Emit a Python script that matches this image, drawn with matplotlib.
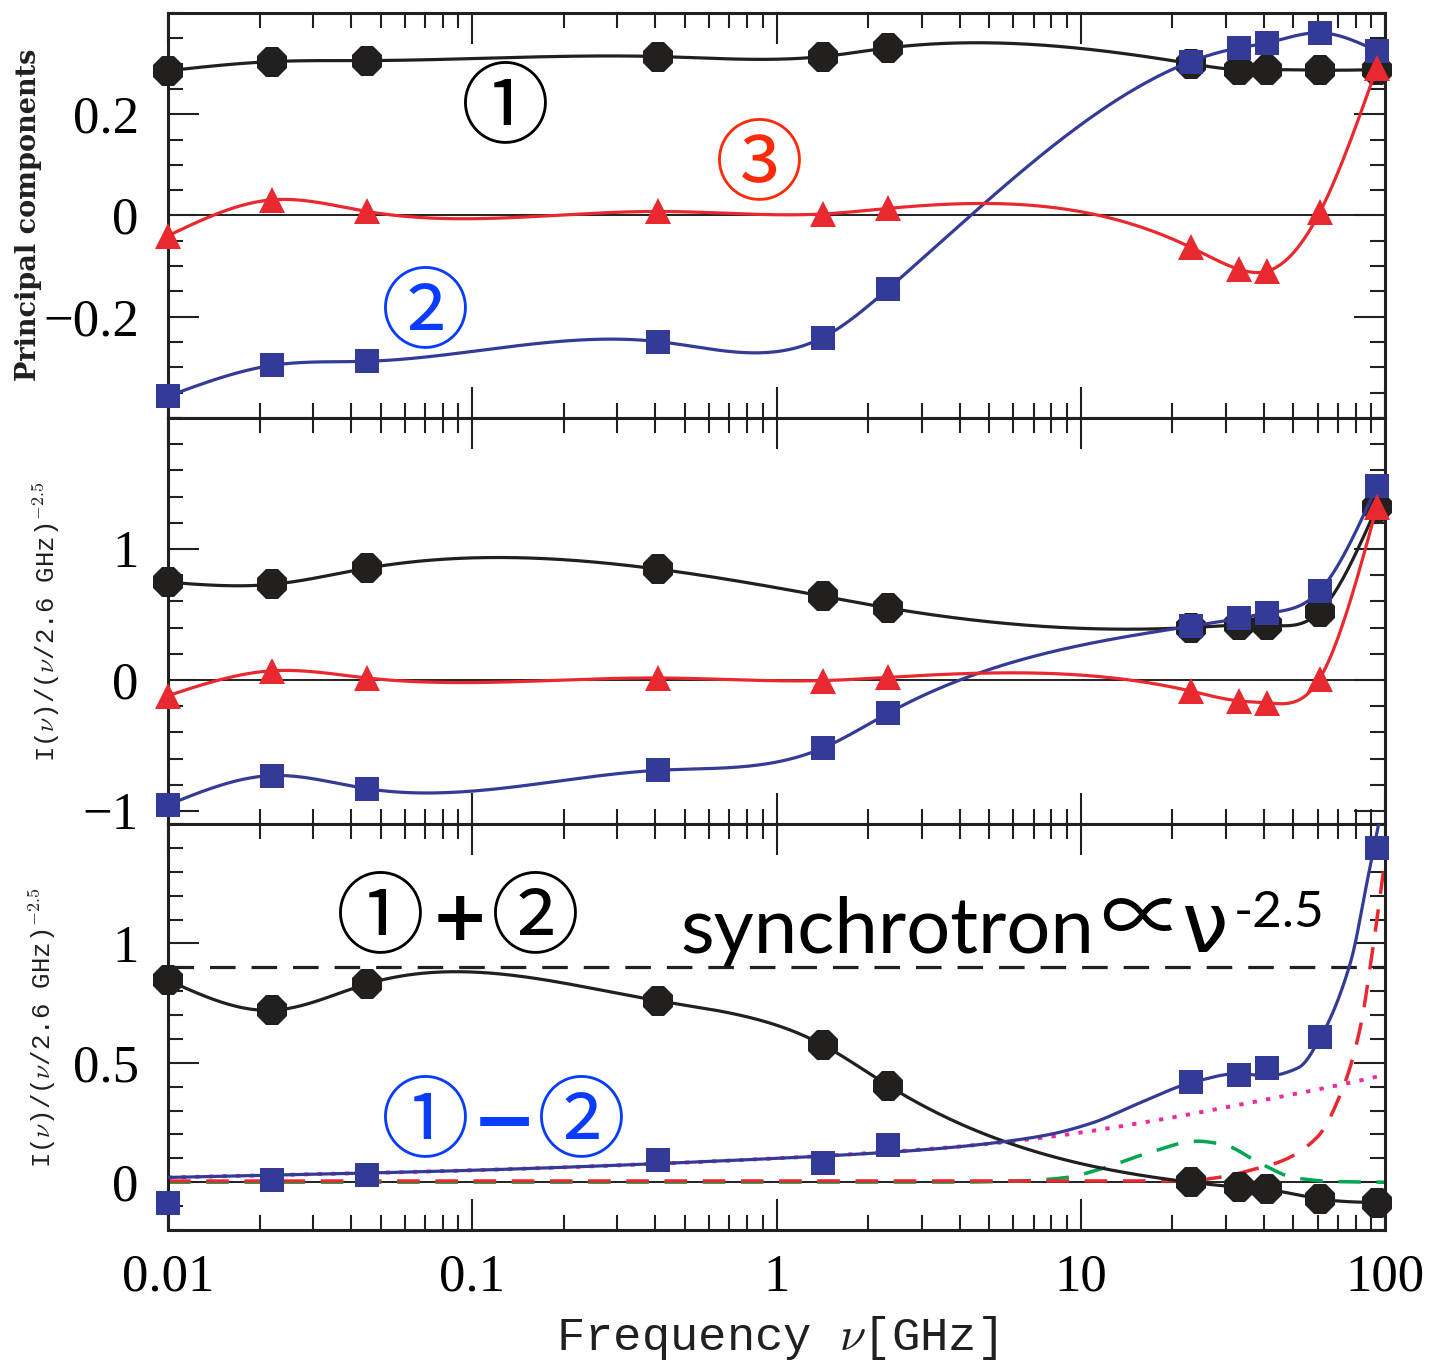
import numpy as np
import matplotlib
matplotlib.use("Agg")
import matplotlib.pyplot as plt
from matplotlib.ticker import MultipleLocator, NullFormatter

# GSM survey frequencies [GHz]
freq = [0.01, 0.022, 0.045, 0.408, 1.42, 2.326, 23.0, 33.0, 41.0, 61.0, 94.0]

# top: principal components
pc1 = [0.286, 0.304, 0.306, 0.314, 0.314, 0.331, 0.300, 0.288, 0.288, 0.287, 0.288]
pc2 = [-0.357, -0.296, -0.288, -0.249, -0.241, -0.145, 0.304, 0.331, 0.341, 0.361, 0.325]
pc3 = [-0.040, 0.031, 0.008, 0.008, 0.003, 0.014, -0.063, -0.106, -0.110, 0.006, 0.292]

# middle: components in units of nu^-2.5
mid1 = [0.746, 0.730, 0.853, 0.846, 0.640, 0.550, 0.400, 0.420, 0.420, 0.520, 1.320]
mid2 = [-0.954, -0.730, -0.830, -0.690, -0.520, -0.254, 0.410, 0.470, 0.510, 0.680, 1.480]
mid3 = [-0.120, 0.070, 0.015, 0.015, -0.005, 0.020, -0.085, -0.160, -0.175, 0.010, 1.320]

# bottom: 1+2 and 1-2
sum12 = [0.846, 0.720, 0.830, 0.760, 0.575, 0.405, 0.000, -0.020, -0.030, -0.070, -0.085]
diff12 = [-0.085, 0.010, 0.030, 0.092, 0.079, 0.158, 0.420, 0.450, 0.480, 0.610, 1.400]

# bottom: model curves
fit_f = [0.01, 0.1, 1.0, 2.3, 3.7, 5.6, 7.9, 11.0, 15.5, 23.5, 33.0, 41.0, 52.0, 61.0, 77.0, 88.0, 96.0]
fit_v = [0.020, 0.050, 0.100, 0.125, 0.145, 0.170, 0.200, 0.250, 0.330, 0.420, 0.455, 0.445, 0.480, 0.600, 0.920, 1.280, 1.520]
pink_f = [0.01, 0.1, 1.0, 3.7, 7.9, 16.9, 36.0, 77.0, 100.0]
pink_v = [0.020, 0.050, 0.100, 0.146, 0.190, 0.255, 0.333, 0.417, 0.450]
green_f = [0.01, 1.0, 3.7, 6.2, 9.0, 11.6, 16.9, 24.0, 29.4, 38.8, 50.0, 67.5, 100.0]
green_v = [0.0, 0.0, 0.0, 0.005, 0.020, 0.055, 0.125, 0.172, 0.158, 0.080, 0.020, 0.003, 0.0]
dust_f = [0.01, 10.0, 21.6, 30.0, 36.0, 46.0, 60.0, 73.0, 83.0, 91.0, 100.0]
dust_v = [0.005, 0.005, 0.005, 0.025, 0.050, 0.090, 0.190, 0.400, 0.650, 0.970, 1.350]
sync_level = 0.9

BLACK = "#221f1f"
BLUE = "#343b96"
RED = "#e8292f"
GREEN = "#00a650"
PINK = "#ee2a9c"
TXT_BLUE = "#0a3cff"
TXT_RED = "#ff2a0a"
CIRC = ["Noto Sans CJK JP", "DejaVu Sans"]


def spline(xk, yk, n=500):
    # natural cubic spline in log(freq)
    x = np.log10(xk)
    y = np.asarray(yk, float)
    h = np.diff(x)
    m = len(x)
    A = np.zeros((m, m))
    b = np.zeros(m)
    A[0, 0] = A[-1, -1] = 1
    for i in range(1, m - 1):
        A[i, i - 1] = h[i - 1]
        A[i, i] = 2 * (h[i - 1] + h[i])
        A[i, i + 1] = h[i]
        b[i] = 6 * ((y[i + 1] - y[i]) / h[i] - (y[i] - y[i - 1]) / h[i - 1])
    M = np.linalg.solve(A, b)
    xs = np.linspace(x[0], x[-1], n)
    j = np.clip(np.searchsorted(x, xs) - 1, 0, m - 2)
    t0 = x[j + 1] - xs
    t1 = xs - x[j]
    hj = h[j]
    ys = ((M[j] * t0**3 + M[j + 1] * t1**3) / (6 * hj)
          + (y[j] / hj - M[j] * hj / 6) * t0
          + (y[j + 1] / hj - M[j + 1] * hj / 6) * t1)
    return 10**xs, ys


def pchip(xk, yk, n=500):
    # monotone cubic in log(freq)
    x = np.log10(xk)
    y = np.asarray(yk, float)
    h = np.diff(x)
    d = np.diff(y) / h
    m = np.zeros(len(x))
    m[0], m[-1] = d[0], d[-1]
    for i in range(1, len(x) - 1):
        if d[i - 1] * d[i] > 0:
            w1 = 2 * h[i] + h[i - 1]
            w2 = h[i] + 2 * h[i - 1]
            m[i] = (w1 + w2) / (w1 / d[i - 1] + w2 / d[i])
    xs = np.linspace(x[0], x[-1], n)
    j = np.clip(np.searchsorted(x, xs) - 1, 0, len(x) - 2)
    t = (xs - x[j]) / h[j]
    ys = ((2 * t**3 - 3 * t**2 + 1) * y[j] + (t**3 - 2 * t**2 + t) * h[j] * m[j]
          + (-2 * t**3 + 3 * t**2) * y[j + 1] + (t**3 - t**2) * h[j] * m[j + 1])
    return 10**xs, ys


plt.rcParams["font.family"] = ["Liberation Serif", "DejaVu Serif"]
plt.rcParams["mathtext.fontset"] = "cm"

W, H = 1433, 1363
fig = plt.figure(figsize=(W / 100, H / 100), dpi=100)


def box(top, bottom):
    return [168 / W, 1 - bottom / H, (1385 - 168) / W, (bottom - top) / H]


ax1 = fig.add_axes(box(13, 418))
ax2 = fig.add_axes(box(418, 824), sharex=ax1)
ax3 = fig.add_axes(box(824, 1230), sharex=ax1)

ax1.set_xscale("log")
ax1.set_xlim(0.01, 100)

for ax in (ax1, ax2, ax3):
    for sp in ax.spines.values():
        sp.set_linewidth(2.2)
        sp.set_color(BLACK)
    ax.tick_params(which="both", direction="in", top=True, right=True,
                   width=1.5, color=BLACK, labelsize=38)
    ax.tick_params(which="major", length=22)
    ax.tick_params(which="minor", length=11)
    ax.tick_params(axis="y", pad=21)
    ax.tick_params(axis="x", pad=17)
    ax.axhline(0, color=BLACK, lw=1.4, zorder=1)
    ax.xaxis.set_minor_formatter(NullFormatter())

ax1.set_xticks([0.01, 0.1, 1, 10, 100], ["0.01", "0.1", "1", "10", "100"])
ax1.tick_params(labelbottom=False)
ax2.tick_params(labelbottom=False)

ax1.set_ylim(-0.4, 0.4)
ax1.set_yticks([-0.2, 0, 0.2], ["\u22120.2", "0", "0.2"])
ax1.yaxis.set_minor_locator(MultipleLocator(0.05))
ax2.set_ylim(-1.1, 2.0)
ax2.set_yticks([-1, 0, 1], ["\u22121", "0", "1"])
ax2.yaxis.set_minor_locator(MultipleLocator(0.2))
ax3.set_ylim(-0.2, 1.5)
ax3.set_yticks([0, 0.5, 1], ["0", "0.5", "1"])
ax3.yaxis.set_minor_locator(MultipleLocator(0.1))


def series(ax, vals, color, marker, ms, z):
    ax.plot(*spline(freq, vals), color=color, lw=2.3, zorder=z)
    ax.plot(freq, vals, ls="none", marker=marker, ms=ms, color=color,
            mew=0, clip_on=False, zorder=z + 0.5)


series(ax1, pc1, BLACK, "8", 24, 3)
series(ax1, pc2, BLUE, "s", 17.5, 4)
series(ax1, pc3, RED, "^", 19, 5)

series(ax2, mid1, BLACK, "8", 24, 3)
series(ax2, mid2, BLUE, "s", 17.5, 4)
series(ax2, mid3, RED, "^", 19, 5)

# bottom panel
ax3.axhline(sync_level, color=BLACK, lw=2.3, ls=(0, (8, 5)), zorder=2)
ax3.plot(*pchip(pink_f, pink_v), color=PINK, lw=2.8, ls=(0, (1.1, 2.4)), zorder=2)
ax3.plot(*pchip(green_f, green_v), color=GREEN, lw=2.5, ls=(0, (6.5, 4.5)), zorder=2)
ax3.plot(*pchip(dust_f, dust_v), color=RED, lw=2.5, ls=(0, (6.5, 4.5)), zorder=2.2)
ax3.plot(*spline(freq, sum12), color=BLACK, lw=2.3, zorder=3)
ax3.plot(freq, sum12, ls="none", marker="8", ms=24, color=BLACK, mew=0,
         clip_on=False, zorder=3.5)
ax3.plot(*pchip(fit_f, fit_v), color=BLUE, lw=2.3, zorder=4)
ax3.plot(freq, diff12, ls="none", marker="s", ms=17.5, color=BLUE, mew=0,
         clip_on=False, zorder=4.5)


def ftext(x, y, s, **kw):
    fig.text(x / W, 1 - y / H, s, **kw)


c = dict(fontsize=64, family=CIRC, ha="center", va="center")
ftext(505, 110, "\u2460", color="black", **c)
ftext(759, 167, "\u2462", color=TXT_RED, **c)
ftext(425, 315, "\u2461", color=TXT_BLUE, **c)

ftext(380, 920, "\u2460", color="black", **c)
ftext(460, 920, "+", color="black", fontsize=50, weight="bold",
      family="DejaVu Sans", ha="center", va="center")
ftext(535, 920, "\u2461", color="black", **c)

ftext(425, 1124, "\u2460", color=TXT_BLUE, **c)
ftext(504, 1124, "\u2212", color=TXT_BLUE, fontsize=56, weight="bold",
      family="DejaVu Sans", ha="center", va="center")
ftext(581, 1124, "\u2461", color=TXT_BLUE, **c)

ftext(680, 953, "synchrotron", fontsize=56, family=["Lato", "DejaVu Sans"],
      ha="left", va="baseline", color="black")
ftext(1142, 946, "\u221d", fontsize=60, family=CIRC,
      ha="center", va="baseline", color="black")
ftext(1182, 952, "\u03bd", fontsize=60, family="DejaVu Sans",
      ha="left", va="baseline", color="black")
ftext(1234, 927, "-2.5", fontsize=37, family=["Lato", "DejaVu Sans"],
      ha="left", va="baseline", color="black")

# axis labels
ftext(29, 215, "Principal components", rotation=90, fontsize=19.5,
      family="DejaVu Serif", weight="bold", ha="center", va="center", color=BLACK)
ylab = r"I($\nu$)/($\nu$/2.6 GHz)$^{\mathbf{-2.5}}$"
ftext(46, 622, ylab, rotation=90, fontsize=18.5, family="Liberation Mono",
      ha="center", va="center", color=BLACK)
ftext(42, 1028, ylab, rotation=90, fontsize=18.5, family="Liberation Mono",
      ha="center", va="center", color=BLACK)
ftext(777, 1338, r"Frequency $\nu$[GHz]", fontsize=34, family="Liberation Mono",
      ha="center", va="center", color=BLACK)

fig.savefig("out.png", dpi=100)
